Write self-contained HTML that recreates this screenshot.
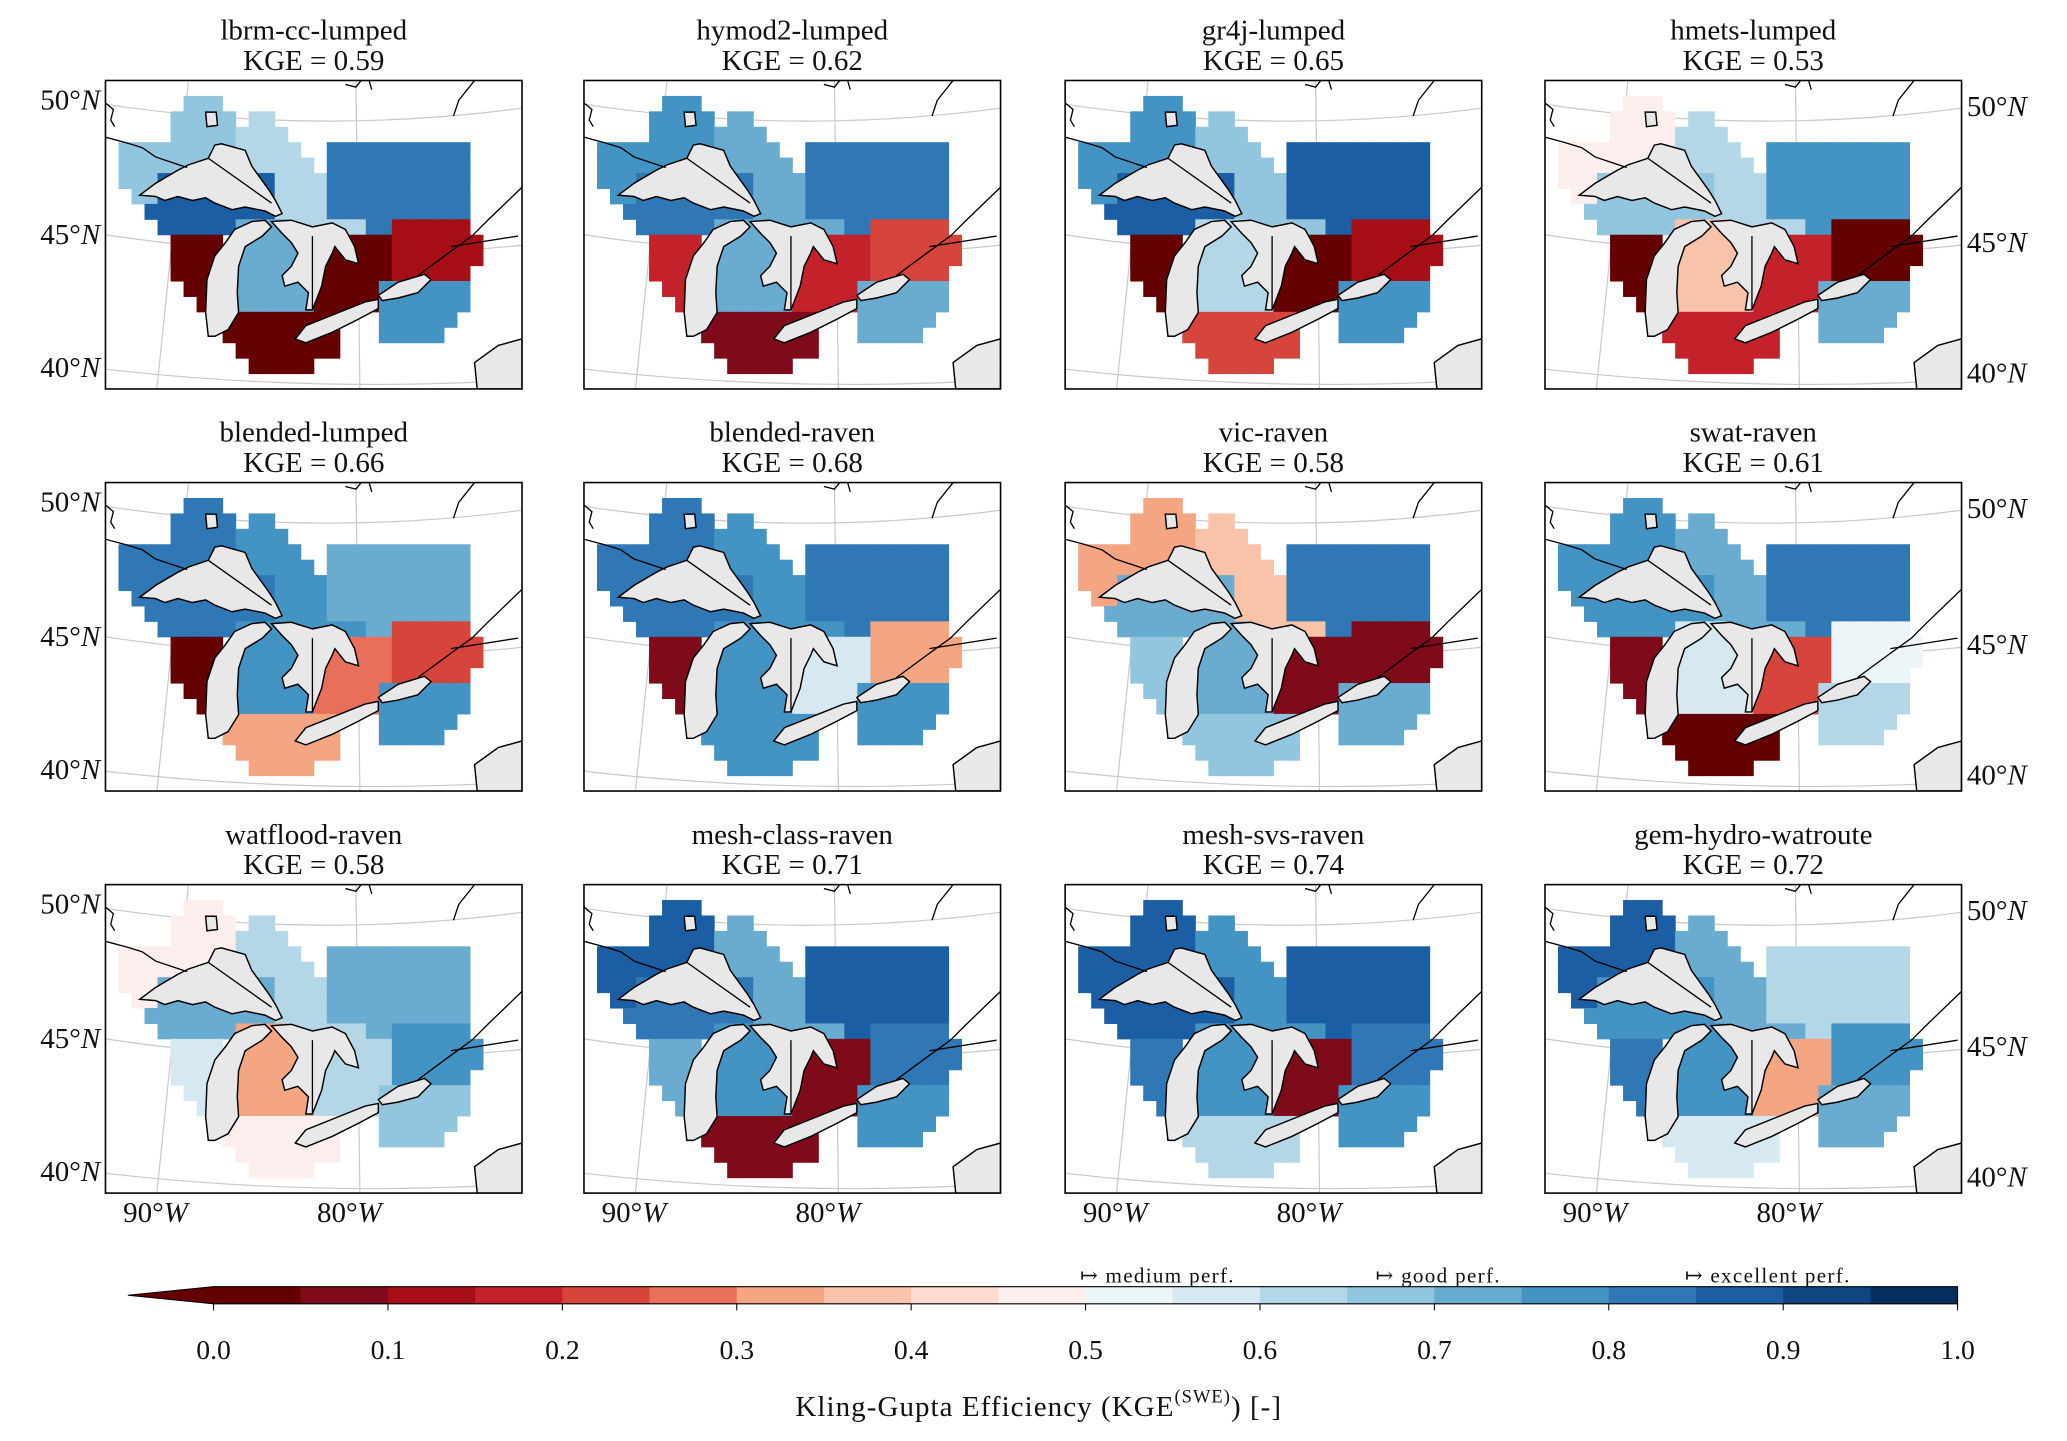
<!DOCTYPE html>
<html><head><meta charset="utf-8">
<style>
html,body{margin:0;padding:0;background:#fff;}
svg{display:block;}
text{font-family:"Liberation Serif","DejaVu Serif",serif;fill:#111;}
</style></head>
<body>
<svg id="fig" width="2067" height="1441" viewBox="0 0 1568 1093" xmlns="http://www.w3.org/2000/svg"></svg>
<script>
// ---- data ----
const models = ["lbrm-cc-lumped","hymod2-lumped","gr4j-lumped","hmets-lumped","blended-lumped","blended-raven","vic-raven","swat-raven","watflood-raven","mesh-class-raven","mesh-svs-raven","gem-hydro-watroute"];
const kgeScores = [0.59,0.62,0.65,0.53,0.66,0.68,0.58,0.61,0.58,0.71,0.74,0.72];
const regionCodes = ["A","B","C","D","E","F","G","H","I","J"];
// per-model KGE by region (A NW-Ontario, B N-Ontario, C Quebec, D Wisconsin, E Lower-Michigan, F S-Ontario, G St-Lawrence, H Indiana/Ohio, I NY/Penn, J Superior-south)
const regionKGE = [
 [0.65,0.60,0.80,0.03,0.70,0.04,0.10,0.02,0.75,0.85],
 [0.75,0.70,0.80,0.15,0.70,0.15,0.20,0.05,0.70,0.80],
 [0.75,0.65,0.85,0.04,0.60,0.04,0.10,0.20,0.75,0.85],
 [0.48,0.60,0.75,0.04,0.35,0.18,0.03,0.15,0.70,0.65],
 [0.80,0.75,0.70,0.03,0.75,0.25,0.20,0.30,0.75,0.80],
 [0.80,0.75,0.80,0.08,0.75,0.55,0.30,0.75,0.75,0.80],
 [0.30,0.35,0.80,0.65,0.70,0.08,0.05,0.65,0.70,0.70],
 [0.75,0.70,0.80,0.08,0.55,0.20,0.50,0.03,0.60,0.75],
 [0.45,0.60,0.72,0.55,0.30,0.60,0.75,0.45,0.65,0.70],
 [0.85,0.70,0.88,0.70,0.75,0.08,0.80,0.08,0.78,0.80],
 [0.85,0.75,0.85,0.80,0.75,0.08,0.80,0.60,0.75,0.85],
 [0.85,0.70,0.60,0.80,0.75,0.30,0.75,0.55,0.72,0.75]
];
const cbTicks = ["0.0","0.1","0.2","0.3","0.4","0.5","0.6","0.7","0.8","0.9","1.0"];
const cbColors = ['#640000','#7f0a1a','#a50f15','#c4222a','#d6453c','#e8705a','#f4a582','#f8c3a8','#fcdcd0','#fbeeec',
 '#eef5f8','#d6e8f2','#b4d7e8','#92c5de','#6aacd0','#4393c3','#2f78b5','#1b5ea3','#0f4580','#062f5e'];

// ---- geometry (region layout in panel-local units, 32x20 grid) ----
const maskRows = [
 [],
 [[6,8,"A"]],
 [[5,9,"A"],[11,12,"B"]],
 [[5,9,"A"],[10,13,"B"]],
 [[1,3,"A"],[4,9,"A"],[10,14,"B"],[17,27,"C"]],
 [[1,3,"A"],[4,9,"A"],[10,15,"B"],[17,27,"C"]],
 [[1,3,"A"],[4,12,"J"],[13,16,"B"],[17,27,"C"]],
 [[2,3,"A"],[4,12,"J"],[13,16,"B"],[17,27,"C"]],
 [[3,12,"J"],[13,16,"B"],[17,27,"C"]],
 [[4,9,"J"],[10,13,"E"],[14,19,"B"],[20,21,"C"],[22,27,"G"]],
 [[5,8,"D"],[10,14,"E"],[15,15,"B"],[16,21,"F"],[22,28,"G"]],
 [[5,8,"D"],[10,15,"E"],[16,21,"F"],[22,28,"G"]],
 [[5,8,"D"],[10,15,"E"],[16,21,"F"],[22,27,"G"]],
 [[6,8,"D"],[10,15,"E"],[16,20,"F"],[21,27,"I"]],
 [[7,8,"D"],[10,15,"E"],[16,20,"F"],[21,27,"I"]],
 [[9,17,"H"],[21,26,"I"]],
 [[9,17,"H"],[21,25,"I"]],
 [[10,17,"H"]],
 [[11,15,"H"]],
 []
];
const PW=316, PH=234, colX=[80,443,808,1172], rowY=[61,366,671];
const lakes = {
 superior:"26,87 38,78 55,68 63,64 78,59 83,49 88,48 106,53 111,65 124,83 129,91 134,101 129,103 121,99 106,96 96,98 83,93 76,89 66,91 55,88 45,91 38,88",
 michigan:"78,194 76,176 77,151 83,133 91,123 98,113 111,107 121,106 126,111 119,118 106,126 101,141 100,161 101,176 93,189 83,194",
 huron:"126,107 141,106 157,111 172,108 182,113 189,126 192,139 182,136 174,126 172,131 167,141 164,156 157,174 152,174 154,161 146,153 136,156 134,148 141,141 146,131 141,123 134,116",
 erie:"144,196 152,186 177,176 197,168 207,166 207,173 192,181 172,191 152,199",
 ontario:"207,163 222,153 242,147 247,151 237,161 222,165 210,167",
 atlantic:"282,234 280,214 298,201 316,196 316,234",
 northlake:"76,24 84,24 85,34 77,35"
};
const NS="http://www.w3.org/2000/svg";
const svg=document.getElementById('fig');
function el(tag,attrs,parent){const e=document.createElementNS(NS,tag);for(const k in attrs)e.setAttribute(k,attrs[k]);(parent||svg).appendChild(e);return e;}
function colorOf(v){let i=Math.floor(Math.max(0,Math.min(0.9999,v))*20);return cbColors[i];}

models.forEach((m,mi)=>{
  const col=mi%4,row=Math.floor(mi/4);
  const px=colX[col],py=rowY[row];
  const g=el('g',{transform:`translate(${px},${py})`});
  
  
  const cid='clip'+mi;
  const cp=el('clipPath',{id:cid},g);el('rect',{x:0,y:0,width:PW,height:PH},cp);
  const inner=el('g',{'clip-path':`url(#${cid})`},g);
  const gl=el('g',{stroke:'#c8c8c8','stroke-width':0.9,fill:'none'},inner);
  el('path',{d:'M0,18 Q158,42 316,21'},gl);
  el('path',{d:'M0,117 Q158,141 316,125'},gl);
  el('path',{d:'M0,219 Q158,237 316,227'},gl);
  el('path',{d:'M63,0 L39,234'},gl);
  el('path',{d:'M190,0 L193,234'},gl);
  const cw=PW/32,ch=PH/20;
  maskRows.forEach((segs,r)=>{
    segs.forEach(s=>{
      for(let c=s[0];c<=s[1];c++){
        const v=regionKGE[mi][regionCodes.indexOf(s[2])];
        const cell=el('rect',{x:(c*cw).toFixed(2),y:(r*ch).toFixed(2),width:(cw+0.4).toFixed(2),height:(ch+0.4).toFixed(2),fill:colorOf(v)},inner);
        
        
      }
    });
  });
  for(const k in lakes){
    const p=el('polygon',{points:lakes[k],fill:'#e8e8e8',stroke:'#000','stroke-width':1.1},inner);
    
    
  }
  const bl=el('g',{stroke:'#000','stroke-width':1,fill:'none'},inner);
  el('path',{d:'M0,43 L15,47 L28,51 L38,58 L50,62 L62,66'},bl);
  el('path',{d:'M78,59 L126,93'},bl);
  el('path',{d:'M157,118 L157,174'},bl);
  el('path',{d:'M262,126 L313,118'},bl);
  el('path',{d:'M237,148 L260,131 L278,118 L290,106 L316,81'},bl);
  el('path',{d:'M280,0 L268,15 L264,27'},bl);
  el('path',{d:'M182,3 L190,5 L194,0 M200,0 L202,7'},bl);
  el('path',{d:'M0,17 L6,22 L4,30 L7,35'},bl);
  el('rect',{x:0,y:0,width:PW,height:PH,fill:'none',stroke:'#000','stroke-width':1.2},g);
  const t1=el('text',{x:px+PW/2,y:py-31,'text-anchor':'middle','font-size':22});t1.textContent=m;
  
  const t2=el('text',{x:px+PW/2,y:py-8,'text-anchor':'middle','font-size':22});t2.textContent='KGE  = '+kgeScores[mi].toFixed(2);
  
  if(col===0||col===3){
    const lats=[["50",col===0?14:19],["45",col===0?116:122],["40",col===0?217:221]];
    lats.forEach(l=>{
      const tx=el('text',{x:col===0?px-4:px+PW+4,y:py+l[1]+8,'text-anchor':col===0?'end':'start','font-size':22});
      tx.innerHTML=l[0]+'°<tspan font-style="italic">N</tspan>';
      
    });
  }
  if(row===2){
    [["90",38],["80",185]].forEach(l=>{
      const tx=el('text',{x:px+l[1],y:py+PH+22,'text-anchor':'middle','font-size':22});
      tx.innerHTML=l[0]+'°<tspan font-style="italic">W</tspan>';
      
    });
  }
});

const cbX0=162,cbX1=1485,cbY=976,cbH=13;
const cb=el('g',{});

el('polygon',{points:`${cbX0},${cbY} 97,${cbY+cbH/2} ${cbX0},${cbY+cbH}`,fill:cbColors[0],stroke:'#000','stroke-width':0.8},cb);
cbColors.forEach((c,i)=>{
  const w=(cbX1-cbX0)/20;
  el('rect',{x:cbX0+i*w,y:cbY,width:w+0.3,height:cbH,fill:c},cb);
});
el('path',{d:`M${cbX0},${cbY} L${cbX1},${cbY} L${cbX1},${cbY+cbH} L${cbX0},${cbY+cbH}`,fill:'none',stroke:'#000','stroke-width':0.8},cb);
cbTicks.forEach((t,i)=>{
  const x=cbX0+(cbX1-cbX0)*parseFloat(t);
  el('line',{x1:x,x2:x,y1:cbY+cbH,y2:cbY+cbH+5,stroke:'#000','stroke-width':0.8},cb);
  const tx=el('text',{x:x,y:1031,'text-anchor':'middle','font-size':21},cb);tx.textContent=t;
  
});
[["↦ medium perf.",878],["↦ good perf.",1091],["↦ excellent perf.",1341]].forEach(a=>{
  const tx=el('text',{x:a[1],y:973,'text-anchor':'middle','font-size':16,'letter-spacing':1},cb);tx.textContent=a[0];
  
});
const lab=el('text',{x:788,y:1074,'text-anchor':'middle','font-size':22,'letter-spacing':0.8});
lab.innerHTML='Kling-Gupta Efficiency (KGE<tspan font-size="14" dy="-10">(SWE)</tspan><tspan dy="10">) [-]</tspan>';

</script>
</body></html>
